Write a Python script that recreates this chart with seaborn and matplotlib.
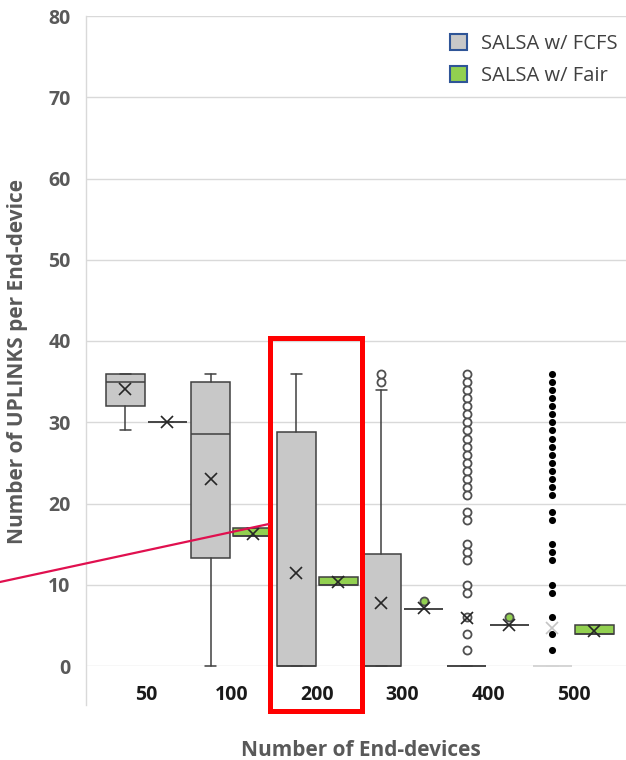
"""Box plots of uplinks per end-device, SALSA FCFS vs Fair."""

import matplotlib

matplotlib.use("Agg")

import matplotlib.pyplot as plt
import seaborn as sns
from matplotlib.lines import Line2D
from matplotlib.patches import Patch, Rectangle

groups = ["50", "100", "200", "300", "400", "500"]

# SALSA w/ FCFS box statistics
fcfs_q1 = [32, 13.25, 0, 0, 0, 0]
fcfs_med = [35, 28.5, 0, 0, 0, 0]
fcfs_q3 = [36, 35, 28.75, 13.8, 0, 0]
fcfs_lo = [29, 0, 0, 0, 0, 0]
fcfs_hi = [36, 36, 36, 34, 0, 0]
fcfs_mean = [34.1, 23.0, 11.5, 7.7, 5.9, 4.7]
outliers_300 = [35, 36]
outliers_400 = [36, 35, 34, 33, 32, 31, 30, 29, 28, 27, 26, 25, 24, 23, 22, 21,
                19, 18, 15, 14, 13, 10, 9, 6, 4, 2]
outliers_500 = [36, 35, 34, 33, 32, 31, 30, 29, 28, 27, 26, 25, 24, 23, 22, 21,
                19, 18, 15, 14, 13, 10, 9, 6, 4, 2]
fcfs_fliers = [[], [], [], outliers_300, outliers_400, outliers_500]

# SALSA w/ Fair box statistics
fair_q1 = [30, 16, 10, 7, 5, 4]
fair_med = [30, 16, 10, 7, 5, 4]
fair_q3 = [30, 17, 11, 7, 5, 5]
fair_lo = [30, 16, 10, 7, 5, 4]
fair_hi = [30, 17, 11, 7, 5, 5]
fair_mean = [30, 16.3, 10.3, 7.1, 5.1, 4.3]
fair_fliers = [[], [], [], [8], [6], []]

GREY = "#c8c8c8"
GREEN = "#92d050"
EDGE = "#404040"
TEXT_GREY = "#595959"


def make_stats(q1, med, q3, lo, hi, mean, fliers):
    return [
        {"q1": a, "med": b, "q3": c, "whislo": d, "whishi": e, "mean": f, "fliers": g}
        for a, b, c, d, e, f, g in zip(q1, med, q3, lo, hi, mean, fliers)
    ]


def draw_series(axis, stats, positions, face, flier_face):
    art = axis.bxp(
        stats,
        positions=positions,
        widths=0.455,
        capwidths=0.13,
        patch_artist=True,
        showmeans=True,
        manage_ticks=False,
        boxprops={"facecolor": face, "edgecolor": EDGE, "linewidth": 1.1},
        medianprops={"color": EDGE, "linewidth": 1.1},
        whiskerprops={"color": EDGE, "linewidth": 1.1},
        capprops={"color": EDGE, "linewidth": 1.1},
        meanprops={"marker": "x", "markeredgecolor": "#262626",
                   "markersize": 8.5, "markeredgewidth": 1.2},
        flierprops={"marker": "o", "markerfacecolor": flier_face,
                    "markeredgecolor": "#505050", "markersize": 5.8,
                    "markeredgewidth": 1.3},
    )
    for items in art.values():
        for artist in items:
            artist.set_clip_on(False)
            artist.set_zorder(3)
    for mean in art["means"]:
        mean.set_zorder(4)
    return art


sns.set_theme(style="whitegrid")
plt.rcParams["font.family"] = ["Open Sans", "DejaVu Sans"]

figure = plt.figure(figsize=(6.26, 7.6), dpi=100)
axis = figure.add_axes([86 / 626, 1 - 666 / 760, 540 / 626, 650 / 760])

offset = 0.247
centers = list(range(len(groups)))
fcfs_art = draw_series(
    axis,
    make_stats(fcfs_q1, fcfs_med, fcfs_q3, fcfs_lo, fcfs_hi, fcfs_mean, fcfs_fliers),
    [c - offset for c in centers],
    GREY,
    "white",
)
draw_series(
    axis,
    make_stats(fair_q1, fair_med, fair_q3, fair_lo, fair_hi, fair_mean, fair_fliers),
    [c + offset for c in centers],
    GREEN,
    GREEN,
)

# the 500 FCFS box is drawn faded with solid outlier dots
faded = "#d4d4d4"
fcfs_art["boxes"][5].set_edgecolor(faded)
fcfs_art["medians"][5].set_color(faded)
for line in fcfs_art["whiskers"][10:12] + fcfs_art["caps"][10:12]:
    line.set_color(faded)
fcfs_art["means"][5].set_markeredgecolor("#c4c4c4")
fcfs_art["fliers"][5].set_markerfacecolor("black")
fcfs_art["fliers"][5].set_markeredgecolor("black")
fcfs_art["fliers"][5].set_markersize(3.8)

axis.set_xlim(-0.707, 5.616)
axis.set_ylim(0, 80)
axis.set_yticks(range(0, 81, 10))
axis.set_xticks(centers)
axis.set_xticklabels(groups)
axis.grid(axis="y", color="#d9d9d9", linewidth=1.0)
axis.grid(axis="x", visible=False)
for side in ("top", "right", "bottom"):
    axis.spines[side].set_visible(False)
axis.spines["left"].set_color("#d9d9d9")
axis.spines["left"].set_linewidth(1.0)
axis.spines["left"].set_bounds(-4.8, 80)

axis.tick_params(axis="x", length=0, pad=14, labelsize=14, labelcolor="#1a1a1a")
axis.tick_params(axis="y", length=0, pad=11, labelsize=14, labelcolor=TEXT_GREY)
for label in axis.get_xticklabels() + axis.get_yticklabels():
    label.set_fontweight("bold")

axis.set_xlabel("Number of End-devices", fontsize=15, fontweight="bold",
                color=TEXT_GREY, va="top")
axis.xaxis.set_label_coords(0.509, -0.1138)
axis.set_ylabel("Number of UPLINKS per End-device", fontsize=15,
                fontweight="bold", color=TEXT_GREY)
axis.yaxis.set_label_coords(-0.107, 0.469)

handles = [
    Patch(facecolor=GREY, edgecolor="#2f5597", linewidth=1.5, label="SALSA w/ FCFS"),
    Patch(facecolor=GREEN, edgecolor="#2f5597", linewidth=1.5, label="SALSA w/ Fair"),
]
legend = axis.legend(
    handles=handles,
    loc="upper right",
    bbox_to_anchor=(1.013, 0.995),
    frameon=False,
    fontsize=14.5,
    handlelength=0.85,
    handleheight=0.85,
    handletextpad=0.7,
    labelspacing=0.57,
    borderaxespad=0.55,
    borderpad=0.2,
)
for text in legend.get_texts():
    text.set_color("#404040")

# highlight around the 200 group and the pointer line
axis.add_patch(Rectangle((1.453, -5.54), 1.077, 45.9, fill=False,
                         edgecolor="#ff0000", linewidth=3.6, clip_on=False, zorder=5))
axis.add_line(Line2D([-1.714, 1.436], [10.34, 17.48], color="#e0104f",
                     linewidth=1.6, clip_on=False, zorder=5))

figure.savefig("out.png", dpi=100)
plt.close(figure)
